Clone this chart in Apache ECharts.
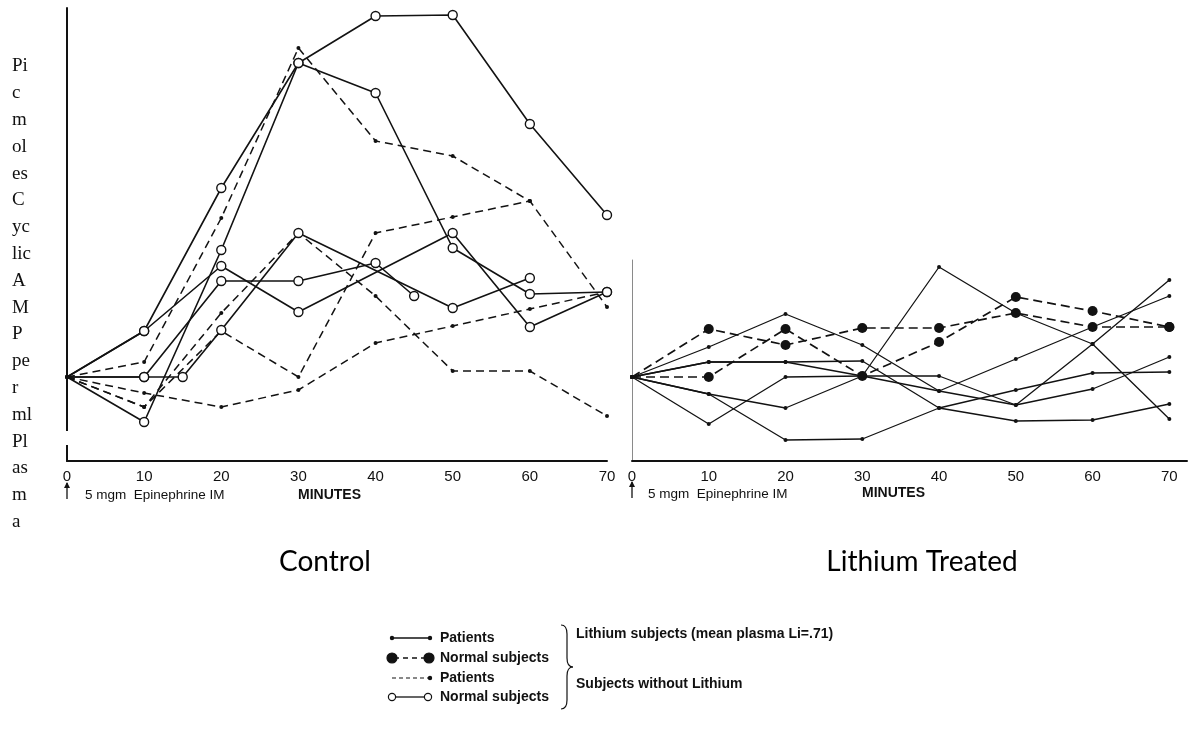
<!DOCTYPE html>
<html>
<head>
<meta charset="utf-8">
<script src="https://cdn.jsdelivr.net/npm/echarts@6/dist/echarts.min.js"></script>
<style>
html,body{margin:0;padding:0;background:#fff;}
#chart{width:1200px;height:735px;}
</style>
</head>
<body>
<div id="chart"></div>
<script>
// ---------- DATA (minutes, relative cyclic AMP level) ----------
const xTicks = [0, 10, 20, 30, 40, 50, 60, 70];

// Control panel: subjects without lithium
const ctrlNormal1 = [[0,8.4],[10,13.0],[20,27.3],[30,39.8],[40,44.5],[50,44.6],[60,33.7],[70,24.6]];
const ctrlNormal2 = [[0,8.4],[10,3.9],[20,21.1],[30,39.8],[40,36.8],[50,21.3],[60,16.7],[70,16.9]];
const ctrlNormal3 = [[0,8.4],[10,8.4],[15,8.4],[20,13.1],[30,22.8],[50,15.3],[60,18.3]];
const ctrlNormal4 = [[0,8.4],[10,8.4],[20,18.0],[30,18.0],[40,19.8],[45,16.5]];
const ctrlNormal5 = [[0,8.4],[10,13.0],[20,19.5],[30,14.9],[50,22.8],[60,13.4],[70,16.9]];

const ctrlPatient1 = [[0,8.4],[10,9.9],[20,24.3],[30,41.3],[40,32.0],[50,30.5],[60,26.0],[70,15.4]];
const ctrlPatient2 = [[0,8.4],[10,5.4],[20,14.8],[30,22.8],[40,16.5],[50,9.0],[60,9.0],[70,4.5]];
const ctrlPatient3 = [[0,8.4],[10,5.4],[20,13.0],[30,8.4],[40,22.8],[50,24.4],[60,26.0]];
const ctrlPatient4 = [[0,8.4],[10,6.8],[20,5.4],[30,7.1],[40,11.8],[50,13.5],[60,15.2],[70,16.9]];

// Lithium treated panel
const liNormal1 = [[0,8.4],[10,13.2],[20,11.6],[30,13.3],[40,13.3],[50,14.8],[60,13.4],[70,13.4]];
const liNormal2 = [[0,8.4],[10,8.4],[20,13.2],[30,8.5],[40,11.9],[50,16.4],[60,15.0],[70,13.4]];

const liPatient1 = [[0,8.4],[10,11.4],[20,14.7],[30,11.6],[40,7.0],[50,10.2],[60,13.4],[70,16.5]];
const liPatient2 = [[0,8.4],[10,9.9],[20,9.9],[30,10.0],[40,5.3],[50,7.1],[60,8.8],[70,8.9]];
const liPatient3 = [[0,8.4],[10,6.7],[20,5.3],[30,8.5],[40,19.4],[50,14.8],[60,11.7],[70,4.2]];
const liPatient4 = [[0,8.4],[10,3.7],[20,8.4],[30,8.5],[40,8.5],[50,5.6],[60,11.7],[70,18.1]];
const liPatient5 = [[0,8.4],[10,6.7],[20,2.1],[30,2.2],[40,5.3],[50,4.0],[60,4.1],[70,5.7]];
const liPatient6 = [[0,8.4],[10,9.9],[20,9.9],[30,8.5],[40,7.0],[50,5.6],[60,7.2],[70,10.4]];

const yLabelLines = ["Pi","c","m","ol","es","C","yc","lic","A","M","P","pe","r","ml","Pl","as","m","a"];

// ---------- STYLES ----------
const INK = '#121212';
const styles = {
  openSolid: {lineType:'solid', width:1.6, symbol:'circle', size:9, fill:'#fff', border:1.4, hideFirst:true},
  dotDashed: {lineType:[8,5], width:1.5, symbol:'circle', size:4, fill:INK, border:0, hideFirst:false},
  dotSolid:  {lineType:'solid', width:1.3, symbol:'circle', size:4, fill:INK, border:0, hideFirst:false},
  bigDashed: {lineType:[9,5], width:1.7, symbol:'circle', size:10, fill:INK, border:0, hideFirst:true}
};

function mk(data, kind, gi) {
  const s = styles[kind];
  return {
    type:'line', xAxisIndex:gi, yAxisIndex:gi,
    data: data.map((p,i) => (i===0 && s.hideFirst) ? {value:p, symbolSize:0} : {value:p}),
    symbol:s.symbol, symbolSize:s.size, showAllSymbol:true,
    lineStyle:{color:INK, width:s.width, type:s.lineType},
    itemStyle:{color:s.fill, borderColor:INK, borderWidth:s.border},
    emphasis:{disabled:true}, silent:true, clip:false
  };
}

const series = [
  mk(ctrlPatient1,'dotDashed',0), mk(ctrlPatient2,'dotDashed',0),
  mk(ctrlPatient3,'dotDashed',0), mk(ctrlPatient4,'dotDashed',0),
  mk(ctrlNormal1,'openSolid',0), mk(ctrlNormal2,'openSolid',0), mk(ctrlNormal3,'openSolid',0),
  mk(ctrlNormal4,'openSolid',0), mk(ctrlNormal5,'openSolid',0),
  mk(liPatient1,'dotSolid',1), mk(liPatient2,'dotSolid',1), mk(liPatient3,'dotSolid',1),
  mk(liPatient4,'dotSolid',1), mk(liPatient5,'dotSolid',1), mk(liPatient6,'dotSolid',1),
  mk(liNormal1,'bigDashed',1), mk(liNormal2,'bigDashed',1)
];

const labelFont = {fontSize:15, color:'#111', fontFamily:'"Liberation Sans", Arial, sans-serif', margin:8};
function xAx(gi, max) {
  return {
    type:'value', gridIndex:gi, min:0, max:max, interval:10,
    axisLine:{show:true, lineStyle:{color:INK, width:2}},
    axisTick:{show:false}, splitLine:{show:false},
    axisLabel:Object.assign({showMaxLabel: max===70, formatter: v => xTicks.includes(v) ? String(v) : ''}, labelFont)
  };
}
function yAx(gi, max, col, w) {
  return {
    type:'value', gridIndex:gi, min:0, max:max,
    axisLine:{show:true, lineStyle:{color:col, width:w}},
    axisTick:{show:false}, axisLabel:{show:false}, splitLine:{show:false}
  };
}

const LEG = 'bold 14px "Liberation Sans", Arial, sans-serif';
const txt = (x,y,text,opt) => ({type:'text', x:x, y:y, silent:true, z:10,
  style:Object.assign({text:text, fill:'#111', font:'13px "Liberation Sans", Arial, sans-serif', textVerticalAlign:'middle'}, opt||{})});
const seg = (x1,y1,x2,y2,dash,w) => ({type:'line', silent:true, z:10,
  shape:{x1:x1,y1:y1,x2:x2,y2:y2}, style:{stroke:INK, lineWidth:w||1.3, lineDash:dash||null}});
const dot = (cx,cy,r,fill) => ({type:'circle', silent:true, z:11, shape:{cx:cx,cy:cy,r:r},
  style:{fill:fill||INK, stroke:INK, lineWidth:1.2}});
const curve = (x1,y1,cx,cy,x2,y2) => ({type:'bezierCurve', silent:true, z:10,
  shape:{x1:x1,y1:y1,cpx1:cx,cpy1:cy,x2:x2,y2:y2}, style:{stroke:INK, fill:null, lineWidth:1.2}});
const arrow = (x,y) => [
  seg(x,y-8,x,y+8,null,1.3),
  {type:'polygon', silent:true, z:10, shape:{points:[[x-3,y-3],[x,y-9],[x+3,y-3]]}, style:{fill:INK}}
];

const graphics = [
  // break in the left vertical axis
  {type:'rect', silent:true, z:20, shape:{x:62,y:431,width:10,height:14}, style:{fill:'#fff'}},
  // vertical y-axis title
  {type:'text', x:12, y:53, silent:true, z:10,
    style:{text:yLabelLines.join('\n'), fill:'#111', font:'19px "Liberation Serif", "Times New Roman", serif', lineHeight:26.8}},
  // annotations under axes
  ...arrow(67,491),
  txt(85,495,'5 mgm  Epinephrine IM',{font:'13.5px "Liberation Sans", Arial, sans-serif'}),
  txt(298,495,'MINUTES',{font:'bold 14px "Liberation Sans", Arial, sans-serif'}),
  ...arrow(632,490),
  txt(648,494,'5 mgm  Epinephrine IM',{font:'13.5px "Liberation Sans", Arial, sans-serif'}),
  txt(862,493,'MINUTES',{font:'bold 14px "Liberation Sans", Arial, sans-serif'}),
  // panel titles
  txt(325,562,'Control',{font:'28px Lato, "Open Sans", sans-serif', textAlign:'center', fill:'#000'}),
  txt(922,562,'Lithium Treated',{font:'28px Lato, "Open Sans", sans-serif', textAlign:'center', fill:'#000'}),
  // legend
  seg(392,638,430,638,null,1.3), dot(392,638,1.6), dot(430,638,1.6),
  txt(440,638,'Patients',{font:LEG}),
  seg(394,658,428,658,[5,4],1.6), dot(392,658,5), dot(429,658,5),
  txt(440,658,'Normal subjects',{font:LEG}),
  seg(392,678,430,678,[4,3],1.2), dot(430,678,1.6),
  txt(440,678,'Patients',{font:LEG}),
  seg(396,697,424,697,null,1.3), dot(392,697,3.6,'#fff'), dot(428,697,3.6,'#fff'),
  txt(440,697,'Normal subjects',{font:LEG}),
  curve(561,625,567,625,567,634), seg(567,634,567,658,null,1.2), curve(567,658,567,667,573,667),
  curve(573,667,567,667,567,676), seg(567,676,567,700,null,1.2), curve(567,700,567,709,561,709),
  txt(576,634,'Lithium subjects (mean plasma Li=.71)',{font:LEG}),
  txt(576,684,'Subjects without Lithium',{font:LEG})
];

const chart = echarts.init(document.getElementById('chart'), null, {renderer:'canvas'});
chart.setOption({
  animation:false,
  backgroundColor:'#fff',
  grid:[
    {left:67, right:593, top:8, bottom:274},
    {left:632, right:13, top:260, bottom:274}
  ],
  xAxis:[xAx(0,70), xAx(1,72.3)],
  yAxis:[yAx(0,45.3,INK,2), yAx(1,20.1,'#8a8a8a',1)],
  series:series,
  graphic:graphics
});
</script>
</body>
</html>
